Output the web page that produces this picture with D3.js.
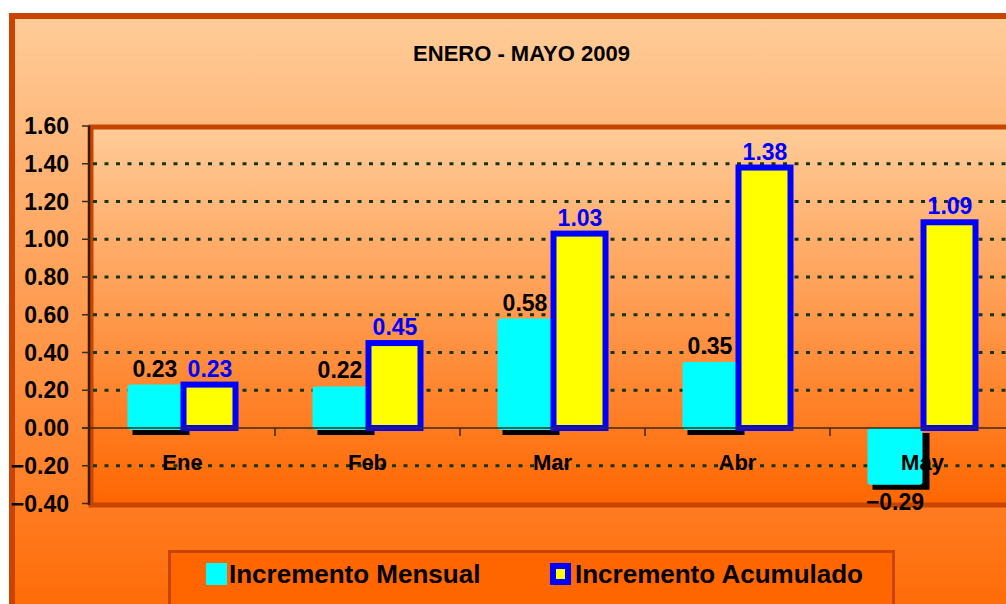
<!DOCTYPE html>
<html>
<head>
<meta charset="utf-8">
<script src="https://cdn.jsdelivr.net/npm/d3@7"></script>
<style>
  html, body { margin: 0; padding: 0; background: #ffffff; }
  svg { display: block; }
  text { font-family: "Liberation Sans", Arial, sans-serif; font-weight: bold; }
</style>
</head>
<body>
<script>
// ---- data ----
const title = "ENERO - MAYO 2009";
const categories = ["Ene", "Feb", "Mar", "Abr", "May"];
const seriesNames = ["Incremento Mensual", "Incremento Acumulado"];
const mensual = [0.23, 0.22, 0.58, 0.35, -0.29];
const acumulado = [0.23, 0.45, 1.03, 1.38, 1.09];
const yTicks = [1.6, 1.4, 1.2, 1.0, 0.8, 0.6, 0.4, 0.2, 0.0, -0.2, -0.4];

// ---- layout ----
const W = 1006, H = 604;
const plot = { left: 90, right: 1015, top: 126, bottom: 503.5 };

const svg = d3.select("body").append("svg").attr("width", W).attr("height", H);
const defs = svg.append("defs");

const g1 = defs.append("linearGradient").attr("id", "bgOuter")
  .attr("gradientUnits", "userSpaceOnUse").attr("x1", 0).attr("y1", 16).attr("x2", 0).attr("y2", 640);
g1.append("stop").attr("offset", "0%").attr("stop-color", "#FFCC99");
g1.append("stop").attr("offset", "100%").attr("stop-color", "#FF6600");

const g2 = defs.append("linearGradient").attr("id", "bgPlot")
  .attr("gradientUnits", "userSpaceOnUse").attr("x1", 0).attr("y1", 127).attr("x2", 0).attr("y2", 505);
g2.append("stop").attr("offset", "0%").attr("stop-color", "#FFCC99");
g2.append("stop").attr("offset", "100%").attr("stop-color", "#FF6600");

// outer chart frame
svg.append("rect").attr("x", 12).attr("y", 16).attr("width", 1100).attr("height", 700)
  .attr("fill", "url(#bgOuter)").attr("stroke", "#C84400").attr("stroke-width", 6);

// title
svg.append("text").attr("x", 521.5).attr("y", 61).attr("text-anchor", "middle")
  .attr("font-size", 22).attr("fill", "#000").text(title);

// scales
const y = d3.scaleLinear().domain([-0.4, 1.6]).range([plot.bottom, plot.top]);
const x = d3.scaleBand().domain(categories).range([plot.left, plot.right]).paddingInner(0).paddingOuter(0);
const xs = d3.scaleBand().domain(seriesNames).range([0, x.bandwidth()]).paddingInner(0).paddingOuter(0.6818);
const bw = xs.bandwidth();

// plot area
svg.append("rect").attr("x", plot.left + 1).attr("y", 127).attr("width", 1000).attr("height", 378)
  .attr("fill", "url(#bgPlot)").attr("stroke", "#C84400").attr("stroke-width", 5);

// gridlines
svg.append("g").selectAll("line")
  .data(yTicks.filter(t => Math.abs(t) > 1e-9 && t < 1.59 && t > -0.39))
  .join("line")
  .attr("x1", plot.left + 3).attr("x2", W)
  .attr("y1", d => y(d)).attr("y2", d => y(d))
  .attr("stroke", "#15351A").attr("stroke-width", 2.8).attr("stroke-dasharray", "4,7.5");

// shadows for monthly bars
const gBars = svg.append("g");
gBars.selectAll("rect.shadow").data(mensual).join("rect").attr("class", "shadow")
  .attr("x", (d, i) => x(categories[i]) + xs(seriesNames[0]) + 5)
  .attr("y", d => Math.min(y(d), y(0)) + 5)
  .attr("width", bw + 2)
  .attr("height", d => Math.abs(y(d) - y(0)) + 2)
  .attr("fill", "#000");

// monthly bars (cyan)
gBars.selectAll("rect.mens").data(mensual).join("rect").attr("class", "mens")
  .attr("x", (d, i) => x(categories[i]) + xs(seriesNames[0]))
  .attr("y", d => Math.min(y(d), y(0)))
  .attr("width", bw)
  .attr("height", d => Math.abs(y(d) - y(0)) + 2)
  .attr("rx", 3)
  .attr("fill", "#00FFFF");

// cumulative bars (yellow w/ blue border)
gBars.selectAll("rect.acum").data(acumulado).join("rect").attr("class", "acum")
  .attr("x", (d, i) => x(categories[i]) + xs(seriesNames[1]) + 1)
  .attr("y", d => Math.min(y(d), y(0)))
  .attr("width", bw - 3)
  .attr("height", d => Math.abs(y(d) - y(0)))
  .attr("fill", "#FFFF00").attr("stroke", "#0000FF").attr("stroke-width", 6);

// zero line
svg.append("line").attr("x1", 82).attr("x2", W).attr("y1", y(0)).attr("y2", y(0))
  .attr("stroke", "#3A2A1A").attr("stroke-width", 1.5);

// category tick marks
svg.append("g").selectAll("line").data(categories.slice(1)).join("line")
  .attr("x1", d => x(d)).attr("x2", d => x(d))
  .attr("y1", y(0)).attr("y2", y(0) + 8)
  .attr("stroke", "#3A2A1A").attr("stroke-width", 1.5);

// value axis line and ticks
svg.append("line").attr("x1", 89).attr("x2", 89).attr("y1", plot.top).attr("y2", 505)
  .attr("stroke", "#3A1A00").attr("stroke-width", 2.5);
svg.append("g").selectAll("line").data(yTicks).join("line")
  .attr("x1", 82).attr("x2", 90)
  .attr("y1", d => y(d)).attr("y2", d => y(d))
  .attr("stroke", "#3A2A1A").attr("stroke-width", 1.5);

// tick labels
svg.append("g").selectAll("text").data(yTicks).join("text")
  .attr("x", 69).attr("y", d => y(d)).attr("dy", "0.35em")
  .attr("text-anchor", "end").attr("font-size", 23).attr("fill", "#000")
  .text(d => d3.format(".2f")(d));

// category labels
svg.append("g").selectAll("text").data(categories).join("text")
  .attr("x", d => x(d) + x.bandwidth() / 2).attr("y", 470)
  .attr("text-anchor", "middle").attr("font-size", 22).attr("fill", "#000")
  .text(d => d);

// data labels
svg.append("g").selectAll("text").data(mensual).join("text")
  .attr("x", (d, i) => x(categories[i]) + xs(seriesNames[0]) + bw / 2)
  .attr("y", d => d >= 0 ? y(d) - 8 : y(d) + 27)
  .attr("text-anchor", "middle").attr("font-size", 23).attr("fill", "#000")
  .text(d => d3.format(".2f")(d));
svg.append("g").selectAll("text").data(acumulado).join("text")
  .attr("x", (d, i) => x(categories[i]) + xs(seriesNames[1]) + bw / 2)
  .attr("y", d => y(d) - 8)
  .attr("text-anchor", "middle").attr("font-size", 23).attr("fill", "#0000FF")
  .text(d => d3.format(".2f")(d));

// legend
const lg = svg.append("g");
lg.append("rect").attr("x", 169.5).attr("y", 551.5).attr("width", 724).attr("height", 80)
  .attr("fill", "#FF6600").attr("stroke", "#C84400").attr("stroke-width", 3);
lg.append("rect").attr("x", 206).attr("y", 563).attr("width", 21).attr("height", 22).attr("fill", "#00FFFF");
lg.append("text").attr("x", 229).attr("y", 583).attr("font-size", 26).attr("fill", "#000").text(seriesNames[0]);
lg.append("rect").attr("x", 550).attr("y", 563).attr("width", 21).attr("height", 22).attr("fill", "#0000FF");
lg.append("rect").attr("x", 556).attr("y", 569).attr("width", 9).attr("height", 10).attr("fill", "#FFFF00");
lg.append("text").attr("x", 575).attr("y", 583).attr("font-size", 26).attr("fill", "#000").text(seriesNames[1]);
</script>
</body>
</html>
